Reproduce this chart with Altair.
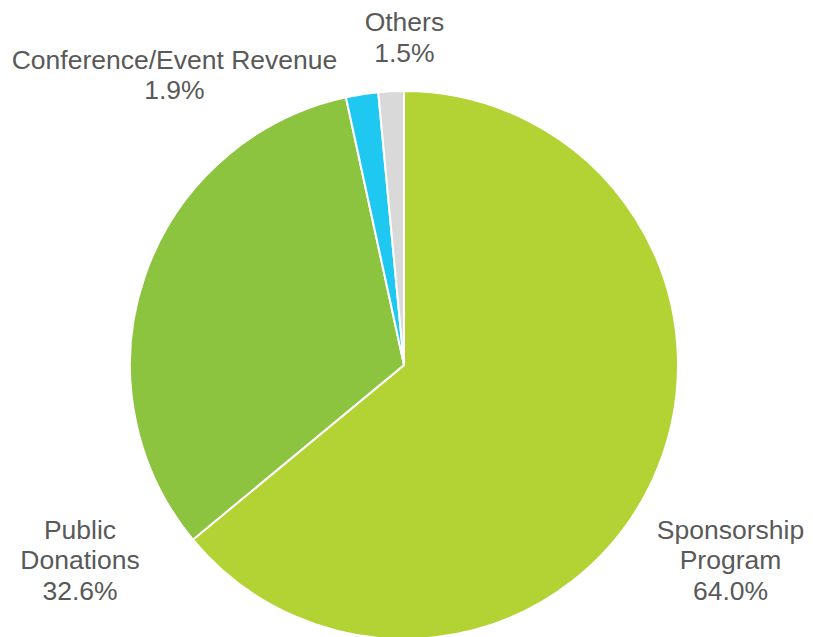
import altair as alt
import pandas as pd

categories = ["Sponsorship Program", "Public Donations", "Conference/Event Revenue", "Others"]
shares = [64.0, 32.6, 1.9, 1.5]
label_lines = [["Sponsorship", "Program"], ["Public", "Donations"], ["Conference/Event Revenue"], ["Others"]]
colors = ["#B3D334", "#8CC43F", "#1FC8F0", "#D9D9D9"]

df = pd.DataFrame({
    "category": categories,
    "share": shares,
    "order": list(range(len(categories))),
    "label": [lines + [f"{v:.1f}%"] for lines, v in zip(label_lines, shares)],
})

CX, CY, R = 396, 357, 274

theta = alt.Theta("share:Q", stack=True)
order = alt.Order("order:O")

pie = alt.Chart(df).mark_arc(stroke="white", strokeWidth=2).encode(
    theta=theta,
    order=order,
    color=alt.Color("category:N", scale=alt.Scale(domain=categories, range=colors), legend=None),
    x=alt.value(CX), y=alt.value(CY), radius=alt.value(R),
)

offsets = {
    "Sponsorship Program": (46, 34),
    "Public Donations": (-31, 267),
    "Conference/Event Revenue": (-182, 2),
    "Others": (15, -32),
}

layers = [pie]
for cat, (dx, dy) in offsets.items():
    layers.append(
        alt.Chart(df).mark_text(
            font="Liberation Sans", fontSize=26.5, color="#595959",
            lineHeight=30.5, align="center", baseline="middle", dx=dx, dy=dy,
        ).encode(
            theta=theta, order=order, text="label",
            x=alt.value(CX), y=alt.value(CY), radius=alt.value(310),
            opacity=alt.condition(alt.datum.category == cat, alt.value(1), alt.value(0)),
        )
    )

chart = alt.layer(*layers).properties(
    width=797, height=629, autosize=alt.AutoSizeParams(type="none"), padding=0
).configure_view(stroke=None)

chart.save("out.html", embed_options={"renderer": "svg", "actions": False})
